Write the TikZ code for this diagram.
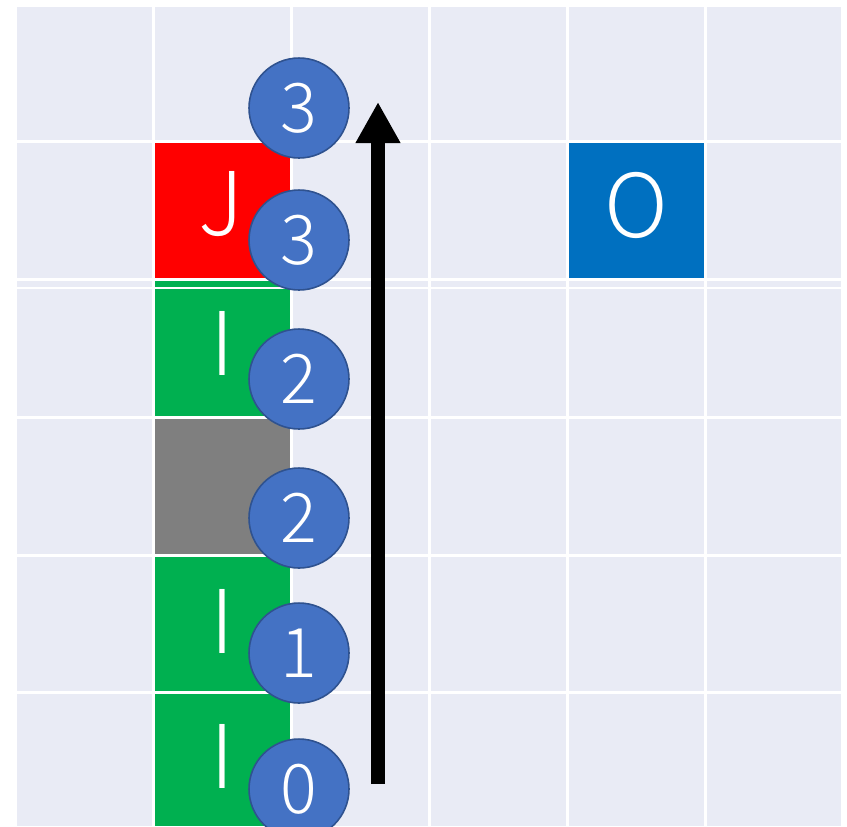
\documentclass[tikz,border=0pt]{standalone}
\usepackage{fontspec}
\setmainfont{Noto Sans CJK SC}[UprightFont={* Light}]
\usetikzlibrary{arrows.meta}
\definecolor{gridbg}{RGB}{233,235,245}
\definecolor{cellred}{RGB}{255,0,0}
\definecolor{cellgreen}{RGB}{0,176,80}
\definecolor{cellgray}{RGB}{127,127,127}
\definecolor{cellblue}{RGB}{0,112,192}
\definecolor{stepfill}{RGB}{68,114,196}
\definecolor{stepline}{RGB}{47,82,143}
\tikzset{
  gridline/.style={white,line width=1.7pt},
  piece/.style={text=white,inner sep=0pt,font=\fontsize{50}{50}\selectfont},
  stepcircle/.style={circle,fill=stepfill,draw=stepline,line width=0.9pt,
    minimum size=2cm,inner sep=0pt,text=white,font=\fontsize{39}{39}\selectfont},
}

\begin{document}
\begin{tikzpicture}[x=0.02cm,y=-0.02cm,>=Stealth]
\useasboundingbox (0,0) rectangle (847,826);
% background board
\fill[gridbg] (16,5) rectangle (841,826);
% ---------- cells ----------
\fill[cellred]   (153,141) rectangle (291,280);
\fill[cellgreen] (153,280) rectangle (291,417);
\fill[cellgray]  (153,417) rectangle (291,555);
\fill[cellgreen] (153,555) rectangle (291,692);
\fill[cellgreen] (153,692) rectangle (291,826);
\fill[cellblue]  (567,141) rectangle (705,279);
% ---------- white grid ----------
\draw[gridline] (16,5) -- (16,826);
\draw[gridline] (153.5,5) -- (153.5,826);
\draw[gridline] (291.5,5) -- (291.5,826);
\draw[gridline] (429.5,5) -- (429.5,826);
\draw[gridline] (567,5) -- (567,826);
\draw[gridline] (705,5) -- (705,826);
\draw[gridline] (16,5) -- (841,5);
\draw[gridline] (16,141) -- (841,141);
\draw[gridline] (16,279.5) -- (841,279.5);
\draw[white,line width=0.6pt] (16,288) -- (841,288);
\draw[gridline] (16,417.5) -- (841,417.5);
\draw[gridline] (16,555) -- (841,555);
\draw[gridline] (16,692) -- (841,692);
% ---------- letters ----------
\node[piece] (pieceJ) at (221,204) {J};
\node[piece] (pieceI1) at (222,343) {I};
\node[piece] (pieceI2) at (222,621) {I};
\node[piece] (pieceI3) at (222,756) {I};
\node[piece] (pieceO) at (636,205) {O};
% ---------- upward arrow ----------
\coordinate (arrowFoot) at (378,784);
\coordinate (arrowTip) at (378,102);
\draw[-{Triangle[length=0.82cm,width=0.84cm]},line width=0.28cm] (arrowFoot) -- (arrowTip);
% ---------- step circles ----------
\node[stepcircle] (stepA) at (299,108) {3};
\node[stepcircle] (stepB) at (299,240) {3};
\node[stepcircle] (stepC) at (299,379) {2};
\node[stepcircle] (stepD) at (299,518) {2};
\node[stepcircle] (stepE) at (299,653) {1};
\node[stepcircle] (stepF) at (299,789) {0};
\end{tikzpicture}
\end{document}
